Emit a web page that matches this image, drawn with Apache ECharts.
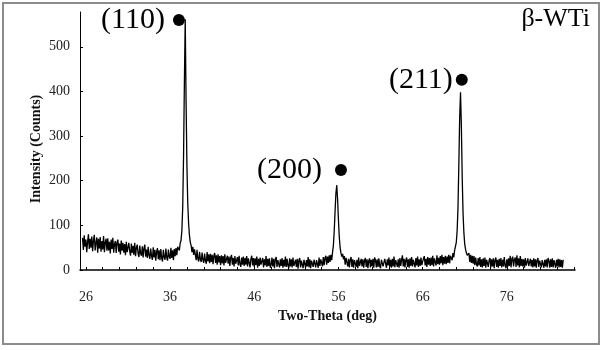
<!DOCTYPE html>
<html>
<head>
<meta charset="utf-8">
<script src="https://cdn.jsdelivr.net/npm/echarts@6/dist/echarts.min.js"></script>
<style>
  html,body{margin:0;padding:0;background:#fff;}
  #chart{width:605px;height:350px;}
</style>
</head>
<body>
<div id="chart"></div>
<script>
/* XRD pattern of beta-WTi, 0.1 deg scan step, intensities. */
var SCAN_STEP = 0.1;

// 25.6 - 36.9 deg
var LOW_ANGLE = [
  72,45,78,52,68,40,63,80,47,70,
  50,75,42,66,79,44,61,73,39,70,
  48,74,41,65,46,76,40,62,70,43,
  71,44,63,37,68,47,72,39,58,65,
  38,62,68,41,59,35,66,43,61,39,
  58,33,63,40,37,61,42,32,59,38,
  54,34,61,31,50,57,36,29,55,37,
  32,53,28,49,57,30,46,27,52,33,
  25,48,31,23,51,28,45,21,41,49,
  24,44,22,47,27,19,45,29,23,48,
  28,21,46,30,25,50,27,44,22,47,
  31,49,33,52
];
// 37.0 - 38.9 deg
var PEAK_110 = [52,44,60,66,88,140,255,420,562,380,235,150,104,78,62,55,40,52,34,46];
// 39.0 - 54.9 deg
var MID_A = [
  42,22,45,25,19,41,24,18,39,23,
  16,37,21,14,40,19,35,15,36,18,
  34,13,32,38,16,33,12,35,17,31,
  11,33,15,31,10,35,16,13,32,14,
  30,9,28,34,12,27,8,31,14,11,
  29,10,32,13,7,28,12,30,9,27,
  12,31,8,26,29,6,25,32,10,27,
  7,26,11,30,5,25,9,28,12,8,
  27,6,24,10,31,7,25,9,26,5,
  11,28,8,25,4,24,29,7,22,26,
  6,24,9,27,5,23,8,30,7,25,
  10,4,26,8,24,6,28,9,5,23,
  7,25,3,22,27,6,21,24,4,23,
  26,5,22,8,29,6,24,4,21,25,
  7,23,27,6,22,25,5,28,9,24,
  26,8,29,11,27,32,12,30,16,33
];
// 55.0 - 56.9 deg
var PEAK_200 = [18,34,22,40,55,88,132,172,190,158,112,74,50,38,30,36,24,31,12,27];
// 57.0 - 69.4 deg
var MID_B = [
  28,8,25,6,23,29,7,24,5,22,
  26,7,23,4,28,9,6,25,8,24,
  5,22,27,7,24,4,21,26,6,23,
  8,25,5,28,22,6,24,7,26,9,
  4,23,27,8,6,25,21,5,24,10,
  28,7,23,5,25,8,30,6,22,26,
  7,24,5,27,9,23,33,8,25,6,
  22,28,7,24,5,26,9,29,8,23,
  25,6,27,10,30,7,24,9,28,11,
  8,26,31,10,25,7,29,12,27,9,
  28,11,32,8,26,30,10,33,13,27,
  12,31,15,34,11,29,14,32,13,30,
  16,34,15,32,36
];
// 69.5 - 71.4 deg
var PEAK_211 = [22,38,28,44,48,62,88,140,235,340,398,325,210,128,84,58,46,38,33,29];
// 71.5 - 82.7 deg
var HIGH_ANGLE = [
  38,18,34,16,32,
  14,31,11,28,13,8,27,10,29,7,
  24,6,26,9,28,5,23,25,7,22,
  27,6,24,8,26,4,22,28,7,23,
  5,25,9,27,6,23,8,29,10,4,
  24,7,26,9,32,6,25,30,8,23,
  28,7,33,10,26,6,31,9,25,8,
  24,5,27,10,7,26,9,6,25,8,
  23,6,26,8,24,5,22,27,7,21,
  25,6,22,26,5,23,8,24,6,27,
  21,5,24,7,26,6,22,25,5,23,
  8,25,6,24,7,22,5,23
];
var SEGMENT_STARTS = [25.6, 37.0, 39.0, 55.0, 57.0, 69.5, 71.5];
var SEGMENTS = [LOW_ANGLE, PEAK_110, MID_A, PEAK_200, MID_B, PEAK_211, HIGH_ANGLE];

var X_LABELS = [26, 36, 46, 56, 66, 76];
var X_TICKS = [26,28,30,32,34,36,38,40,42,44,46,48,50,52,54,56,58,60,62,64,66,68,70,72,74,76,78,80,82,84];
var Y_TICKS = [0, 100, 200, 300, 400, 500];

var PEAK_NAMES = ['(110)', '(200)', '(211)'];
var PEAK_MARK_X = [37.05, 56.3, 70.65];
var PEAK_MARK_Y = [560, 224, 426];

var points = [];
SEGMENTS.forEach(function(seg, s){
  seg.forEach(function(v, i){
    points.push([+(SEGMENT_STARTS[s] + i * SCAN_STEP).toFixed(1), v]);
  });
});

var LABEL_GAP = [8, 13, 3];
var marks = PEAK_NAMES.map(function(name, i){
  return { name:name, value:[PEAK_MARK_X[i], PEAK_MARK_Y[i]], label:{ distance:LABEL_GAP[i] } };
});

var SERIF = '"Liberation Serif", "Times New Roman", serif';
var chart = echarts.init(document.getElementById('chart'), null, {renderer:'canvas'});

chart.setOption({
  animation:false,
  backgroundColor:'#fff',
  grid:{ left:80, right:30, top:12, bottom:80 },
  xAxis:{
    type:'value', min:25.3, max:84.1,
    name:'Two-Theta (deg)', nameLocation:'middle', nameGap:36,
    nameTextStyle:{ fontFamily:SERIF, fontWeight:'bold', fontSize:14, color:'#111' },
    axisLine:{ lineStyle:{ color:'#000', width:1.5 } },
    axisTick:{ inside:true, length:3, customValues:X_TICKS, lineStyle:{ color:'#000' } },
    axisLabel:{ customValues:X_LABELS, margin:20, fontFamily:SERIF, fontSize:14, color:'#222' },
    splitLine:{ show:false }
  },
  yAxis:{
    type:'value', min:0, max:578,
    name:'Intensity (Counts)', nameLocation:'middle', nameGap:37, nameRotate:90,
    nameMoveOverlap:false,
    nameTextStyle:{ fontFamily:SERIF, fontWeight:'bold', fontSize:14, color:'#111', padding:[0,16,0,0] },
    axisLine:{ show:true, lineStyle:{ color:'#000', width:1 } },
    axisTick:{ show:true, inside:true, length:3, customValues:Y_TICKS, lineStyle:{ color:'#000' } },
    axisLabel:{ customValues:Y_TICKS, margin:10, fontFamily:SERIF, fontSize:14, color:'#222' },
    splitLine:{ show:false }
  },
  series:[
    {
      type:'line', data:points, showSymbol:false, sampling:null,
      lineStyle:{ color:'#000', width:1.3 }, z:2
    },
    {
      type:'scatter', data:marks, symbol:'circle', symbolSize:12,
      itemStyle:{ color:'#000', opacity:1 }, z:3,
      label:{ show:true, position:'left', formatter:'{b}', fontFamily:SERIF, fontSize:30, color:'#000' }
    }
  ],
  graphic:[
    { type:'rect', shape:{ x:3, y:3, width:596, height:341 },
      style:{ fill:'none', stroke:'#8c8c8c', lineWidth:2 }, silent:true },
    { type:'text', right:15, top:6,
      style:{ text:'β-WTi', font:'26px ' + SERIF, fill:'#000' } }
  ]
});
</script>
</body>
</html>
